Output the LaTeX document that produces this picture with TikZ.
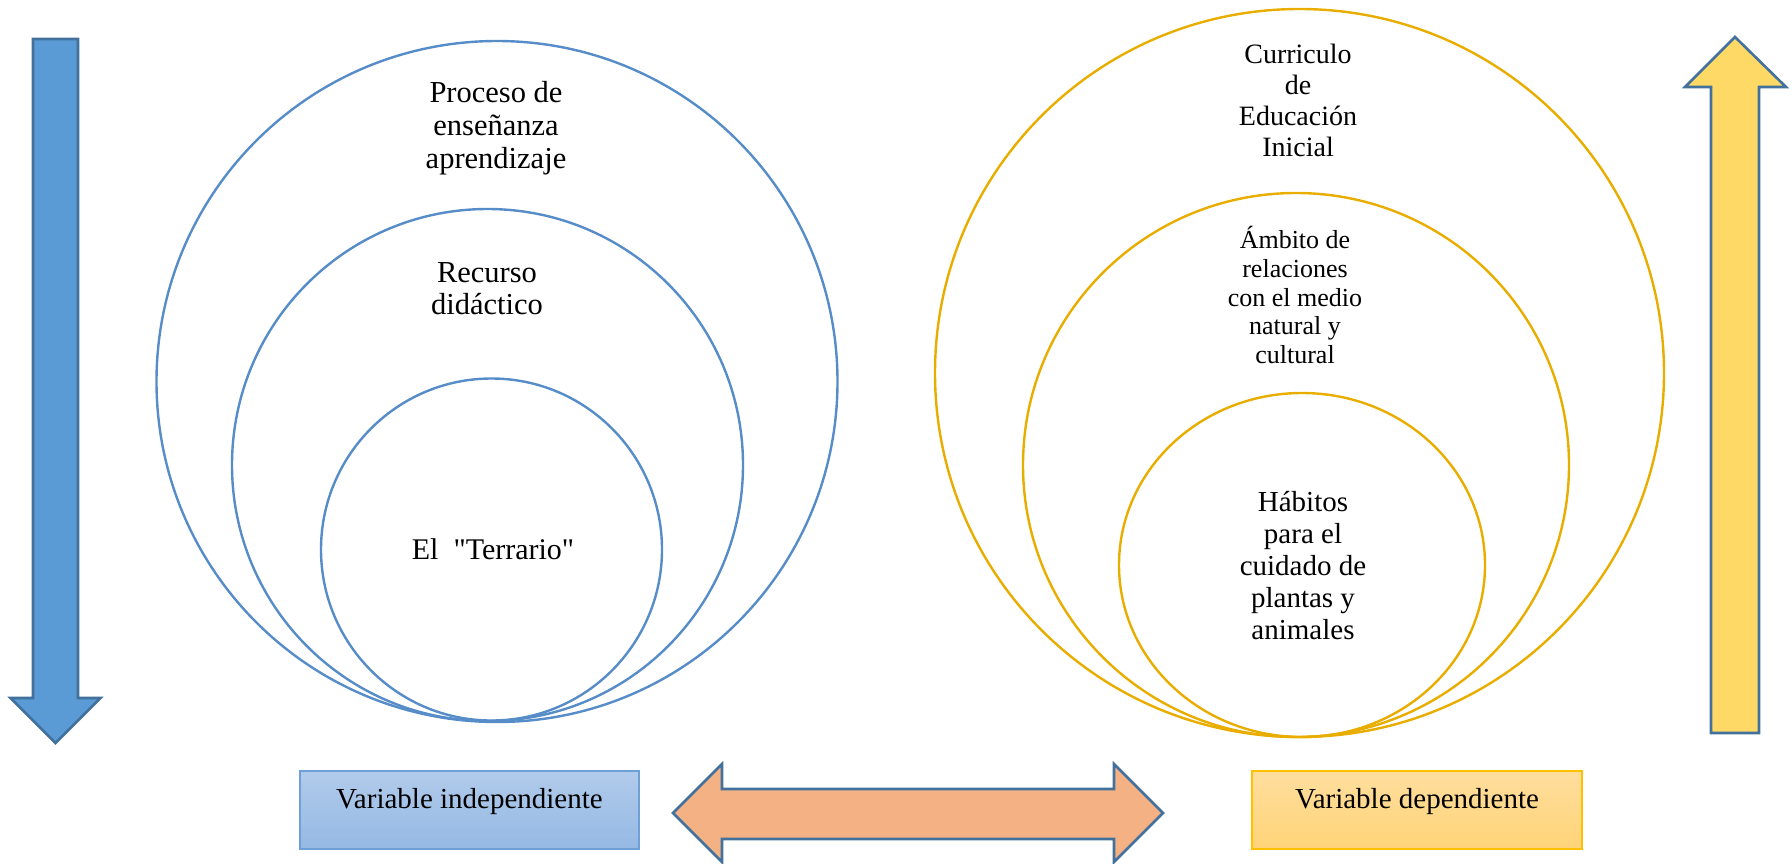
\documentclass[tikz,border=0pt]{standalone}
\usepackage{fontspec}
\setmainfont{Liberation Serif}
\newfontfamily\plainserif{Liberation Serif}
\newcommand\myfs[2]{\fontsize{#1}{#2}\selectfont}
\definecolor{blline}{RGB}{86,140,200}
\definecolor{goline}{RGB}{233,173,0}
\definecolor{arrborder}{RGB}{65,113,156}
\definecolor{blfill}{RGB}{91,155,213}
\definecolor{yefill}{RGB}{255,217,102}
\definecolor{orfill}{RGB}{244,177,131}
\definecolor{vitop}{RGB}{177,203,234}
\definecolor{vibot}{RGB}{149,185,228}
\definecolor{viborder}{RGB}{110,160,215}
\definecolor{vdtop}{RGB}{255,222,158}
\definecolor{vdbot}{RGB}{255,212,120}
\definecolor{vdborder}{RGB}{255,192,0}
\begin{document}
\begin{tikzpicture}[x=1pt,y=-1pt,
  blring/.style={draw=blline,line width=2.4pt},
  goring/.style={draw=goline,line width=2.4pt},
  bigarrow/.style={draw=arrborder,line width=2.6pt,line join=miter},
  txt/.style={align=center,inner sep=0pt,text=black},
  varbox/.style={minimum height=78pt,inner xsep=0pt,inner ysep=0pt,
     text height=38pt,text depth=40pt,anchor=north,font=\myfs{29}{33}},
]
\useasboundingbox (0,0) rectangle (1792,863);
% left rings
\draw[blring] (497,381.5) ellipse [x radius=340.5,y radius=340.5];
\draw[blring] (487.5,465) ellipse [x radius=255.5,y radius=256];
\draw[blring] (491.5,549.5) ellipse [x radius=170.5,y radius=171];
% right rings
\draw[goring] (1299.5,373) ellipse [x radius=364.5,y radius=364];
\draw[goring] (1296,465) ellipse [x radius=273,y radius=272];
\draw[goring] (1302,565) ellipse [x radius=183,y radius=172];
% texts
\node[txt,font=\myfs{30.5}{33}] (proc) at (496,128) {Proceso de\\enseñanza\\aprendizaje};
\node[txt,font=\myfs{30.5}{32}] (recu) at (487,289) {Recurso\\didáctico};
\node[txt,font={\plainserif\myfs{30}{32}}] (terr) at (493,549) {El\ \ "Terrario"};
\node[txt,font=\myfs{28}{31}] (curr) at (1298,100) {Curriculo\\de\\Educación\\Inicial};
\node[txt,font=\myfs{26}{28.75}] (ambi) at (1295,295) {Ámbito de\\relaciones\\con el medio\\natural y\\cultural};
\node[txt,font=\myfs{29}{32}] (habi) at (1303,566) {Hábitos\\para el\\cuidado de\\plantas y\\animales};
% side arrows
\draw[bigarrow,fill=blfill] (33,39) -- (78,39) -- (78,698) -- (100.5,698) -- (55.5,743) -- (10.5,698) -- (33,698) -- cycle;
\draw[bigarrow,fill=yefill] (1711,733) -- (1711,87) -- (1685,87) -- (1735,37) -- (1786,87) -- (1759,87) -- (1759,733) -- cycle;
% double arrow
\draw[bigarrow,fill=orfill] (673,813) -- (722,764) -- (722,789) -- (1114,789) -- (1114,764) -- (1163,813) -- (1114,862) -- (1114,839) -- (722,839) -- (722,862) -- cycle;
% variable boxes
\node[varbox,minimum width=339pt,draw=viborder,line width=1.5pt,top color=vitop,bottom color=vibot] (vind) at (469.5,770) {Variable independiente};
\node[varbox,minimum width=330pt,draw=vdborder,line width=1.5pt,top color=vdtop,bottom color=vdbot] (vdep) at (1417,770) {Variable dependiente};
\end{tikzpicture}
\end{document}
